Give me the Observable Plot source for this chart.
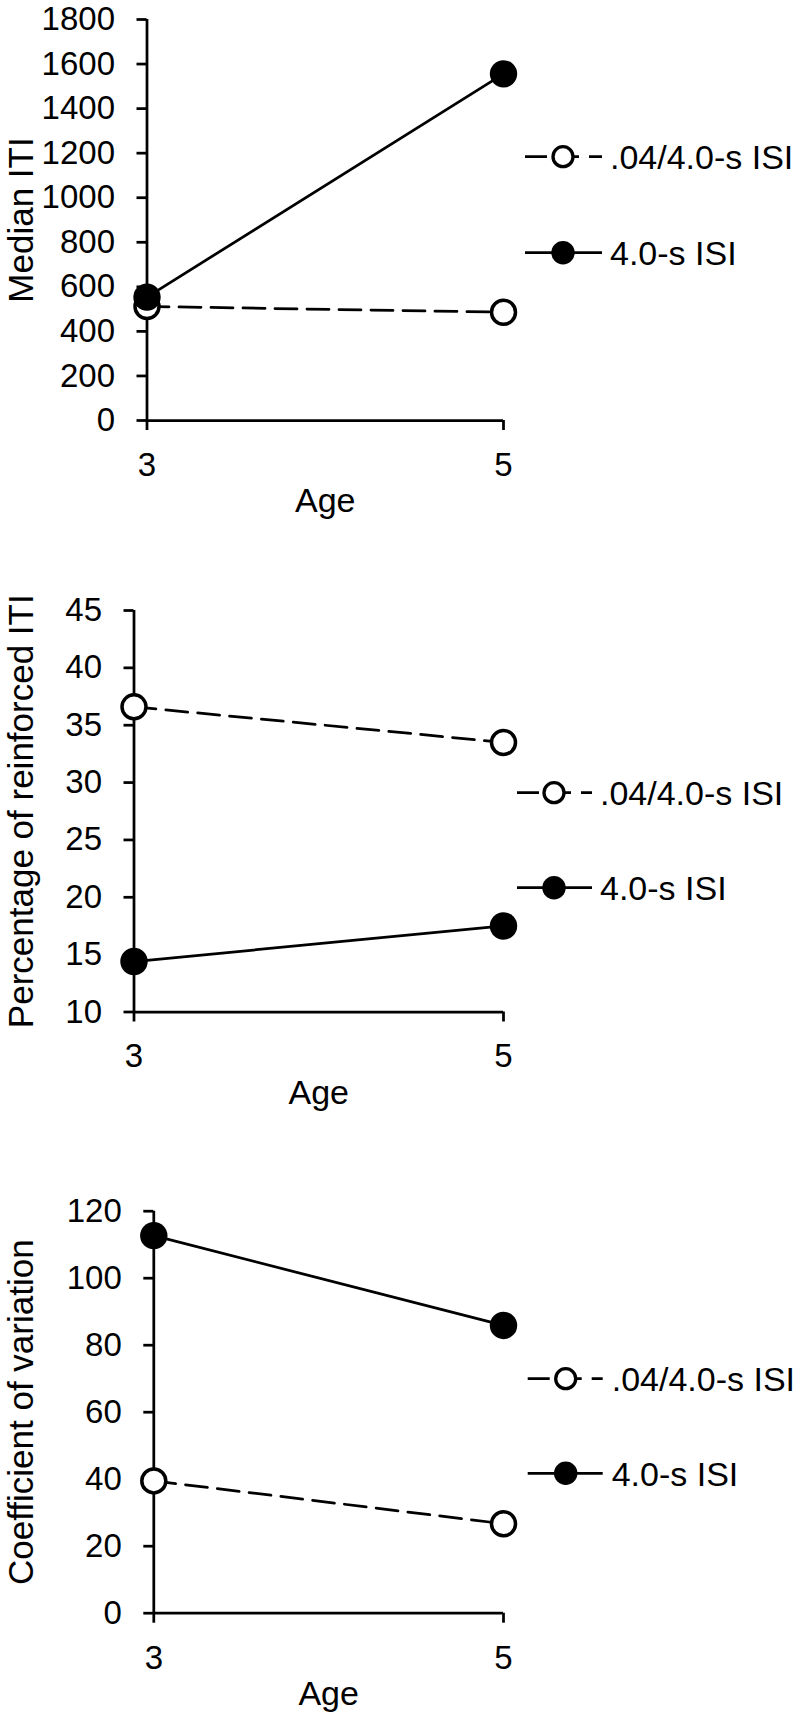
<!DOCTYPE html>
<html>
<head>
<meta charset="utf-8">
<script src="https://cdn.jsdelivr.net/npm/d3@7"></script>
<script src="https://cdn.jsdelivr.net/npm/@observablehq/plot@0.6"></script>
<style>
  html, body { margin: 0; padding: 0; background: #fff; }
  #wrap { position: relative; width: 802px; height: 1728px; background: #fff; overflow: hidden; }
  #wrap > svg { position: absolute; left: 0; }
</style>
</head>
<body>
<div id="wrap"></div>
<script>
// ---- data ----
const ages = [3, 5];
const seriesNames = [".04/4.0-s ISI", "4.0-s ISI"];

const medianShort = [512, 486];     // .04/4.0-s ISI
const medianLong = [554, 1556];     // 4.0-s ISI
const pctShort = [36.6, 33.5];
const pctLong = [14.4, 17.5];
const cvShort = [39.5, 26.7];
const cvLong = [112.7, 85.9];

const medianTicks = [0, 200, 400, 600, 800, 1000, 1200, 1400, 1600, 1800];
const pctTicks = [10, 15, 20, 25, 30, 35, 40, 45];
const cvTicks = [0, 20, 40, 60, 80, 100, 120];

const yLabels = ["Median ITI", "Percentage of reinforced ITI", "Coefficient of variation"];
const xLabel = "Age";

// ---- layout (styles only) ----
const FONT = "'Liberation Sans', Arial, Helvetica, sans-serif";
const W = 802;
const panels = [
  {short: medianShort, long: medianLong, ticks: medianTicks, label: yLabels[0],
   top: 0, height: 540, mL: 146.5, mT: 19, mB: 120,
   leg: {x0: 525, x1: 602, cx: 563, tx: 610, ys: [156.7, 252.7]}},
  {short: pctShort, long: pctLong, ticks: pctTicks, label: yLabels[1],
   top: 540, height: 590, mL: 133.5, mT: 70, mB: 118.5,
   leg: {x0: 517, x1: 592, cx: 554, tx: 600, ys: [792.7, 887.7]}},
  {short: cvShort, long: cvLong, ticks: cvTicks, label: yLabels[2],
   top: 1130, height: 598, mL: 153.3, mT: 80.7, mB: 115.3,
   leg: {x0: 527.7, x1: 602.7, cx: 565.7, tx: 611.7, ys: [1378.7, 1473.3]}}
];
const xRight = 503;
const SW = 2.75;
const DASH = "22,10";
const TICK_FS = 33, LABEL_FS = 35, AGE_FS = 34, LEG_FS = 34;

const wrap = document.getElementById("wrap");

panels.forEach(p => {
  const rows = [];
  ages.forEach((a, i) => rows.push({age: a, value: p.short[i], series: seriesNames[0]}));
  ages.forEach((a, i) => rows.push({age: a, value: p.long[i], series: seriesNames[1]}));
  const shortRows = rows.filter(d => d.series === seriesNames[0]);
  const longRows = rows.filter(d => d.series === seriesNames[1]);
  const yDomain = [p.ticks[0], p.ticks[p.ticks.length - 1]];

  const chart = Plot.plot({
    width: W,
    height: p.height,
    marginLeft: p.mL,
    marginRight: W - xRight,
    marginTop: p.mT,
    marginBottom: p.mB,
    style: {fontFamily: FONT, fontSize: TICK_FS + "px", color: "#000", background: "#fff", overflow: "visible"},
    x: {domain: [ages[0], ages[ages.length - 1]]},
    y: {domain: yDomain},
    marks: [
      Plot.axisX({ticks: ages, tickSize: 10, tickPadding: 22, strokeWidth: SW, label: null, fontSize: TICK_FS, tickFormat: d => String(d)}),
      Plot.axisY({ticks: p.ticks, tickSize: 10, tickPadding: 22, strokeWidth: SW, label: null, fontSize: TICK_FS, tickFormat: d => String(d)}),
      Plot.ruleX([ages[0]], {stroke: "#000", strokeWidth: SW}),
      Plot.ruleY([yDomain[0]], {stroke: "#000", strokeWidth: SW}),
      Plot.line(shortRows, {x: "age", y: "value", stroke: "#000", strokeWidth: SW, strokeDasharray: DASH}),
      Plot.dot(shortRows, {x: "age", y: "value", r: 12, fill: "#fff", stroke: "#000", strokeWidth: 3.5}),
      Plot.line(longRows, {x: "age", y: "value", stroke: "#000", strokeWidth: SW}),
      Plot.dot(longRows, {x: "age", y: "value", r: 13.7, fill: "#000", stroke: "none"}),
      Plot.text([p.label], {text: d => d, frameAnchor: "left", textAnchor: "middle", rotate: -90, dx: -(p.mL - 21), fontSize: LABEL_FS, fill: "#000"}),
      Plot.text([xLabel], {text: d => d, frameAnchor: "bottom", textAnchor: "middle", dy: 91.7, fontSize: AGE_FS, fill: "#000"})
    ]
  });
  chart.style.top = p.top + "px";
  wrap.appendChild(chart);
});

// ---- legends (overlay) ----
const leg = d3.select(wrap).append("svg")
  .attr("width", W).attr("height", 1728)
  .style("top", "0px").style("pointer-events", "none")
  .style("font-family", FONT).style("font-size", LEG_FS + "px");

panels.forEach(p => {
  const L = p.leg;
  seriesNames.forEach((name, i) => {
    const y = L.ys[i];
    const g = leg.append("g");
    g.append("line").attr("x1", L.x0).attr("x2", L.x1).attr("y1", y).attr("y2", y)
      .attr("stroke", "#000").attr("stroke-width", SW)
      .attr("stroke-dasharray", i === 0 ? DASH : null);
    if (i === 0) {
      g.append("circle").attr("cx", L.cx).attr("cy", y).attr("r", 10)
        .attr("fill", "#fff").attr("stroke", "#000").attr("stroke-width", 3.3);
    } else {
      g.append("circle").attr("cx", L.cx).attr("cy", y).attr("r", 11.7).attr("fill", "#000");
    }
    g.append("text").attr("x", L.tx).attr("y", y).attr("dy", "0.36em")
      .attr("fill", "#000").text(name);
  });
});
</script>
</body>
</html>
